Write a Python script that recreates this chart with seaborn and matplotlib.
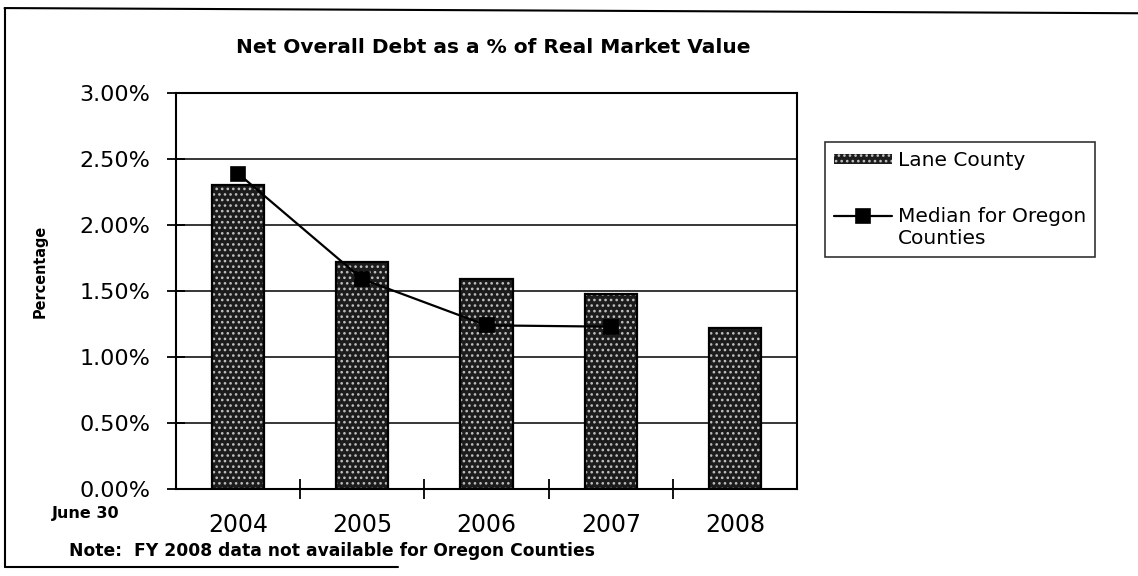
import matplotlib
matplotlib.use("Agg")
import numpy as np
import matplotlib.pyplot as plt
from matplotlib.lines import Line2D
from matplotlib.legend_handler import HandlerLine2D
import seaborn as sns
import pandas as pd

# Fiscal years (as of June 30)
years = ["2004", "2005", "2006", "2007", "2008"]
# Net overall debt as a percent of real market value, Lane County
lane_county = [2.30, 1.72, 1.59, 1.48, 1.22]
# Median for Oregon counties (no FY 2008 figure)
median_years = ["2004", "2005", "2006", "2007"]
median_oregon = [2.39, 1.59, 1.24, 1.23]

y_ticks = [0.0, 0.5, 1.0, 1.5, 2.0, 2.5, 3.0]
y_tick_labels = ["0.00%", "0.50%", "1.00%", "1.50%", "2.00%", "2.50%", "3.00%"]

LANE_LABEL = "Lane County"
MEDIAN_LABEL = "Median for Oregon\nCounties"

sns.set_theme(style="white")
plt.rcParams["font.family"] = ["DejaVu Sans"]
plt.rcParams["hatch.linewidth"] = 1.1
for key in ("text.color", "axes.labelcolor", "xtick.color", "ytick.color"):
    plt.rcParams[key] = "black"


class FirstLineHandler(HandlerLine2D):
    """Line legend handle lifted to sit beside the first line of a two-line label."""

    def __init__(self, lift=0.6, **kw):
        super().__init__(**kw)
        self.lift = lift

    def create_artists(self, legend, orig_handle, xdescent, ydescent,
                       width, height, fontsize, trans):
        artists = super().create_artists(legend, orig_handle, xdescent, ydescent,
                                         width, height, fontsize, trans)
        for a in artists:
            a.set_ydata(np.asarray(a.get_ydata(), dtype=float) + self.lift * fontsize)
        return artists


fig = plt.figure(figsize=(11.38, 5.76), dpi=100)
ax = fig.add_axes([0.1547, 0.151, 0.5457, 0.6875])

bars = pd.DataFrame({"year": years, "value": lane_county})
# speckled dark fill
sns.barplot(data=bars, x="year", y="value", order=years, ax=ax,
            color="#1c1c1c", saturation=1, width=0.42,
            edgecolor="#bfbfbf", linewidth=0, hatch="...",
            label=LANE_LABEL, zorder=3)
# black outline around each bar
sns.barplot(data=bars, x="year", y="value", order=years, ax=ax,
            color="black", fill=False, width=0.42, linewidth=1.6, zorder=4)

med = pd.DataFrame({"year": median_years, "value": median_oregon})
sns.pointplot(data=med, x="year", y="value", order=years, ax=ax,
              color="black", markers="s", errorbar=None,
              markersize=10, linewidth=1.6,
              label=MEDIAN_LABEL, zorder=5)

ax.set_xlim(-0.5, len(years) - 0.5)
ax.set_ylim(0, 3.0)
ax.set_yticks(y_ticks)
ax.set_yticklabels(y_tick_labels)
ax.yaxis.grid(True, color="black", linewidth=1.1, zorder=0)
ax.set_axisbelow(True)

# category labels at bar centres, tick marks at category boundaries
ax.set_xticks(range(len(years)))
ax.set_xticklabels(years)
ax.set_xticks([i + 0.5 for i in range(len(years) - 1)], minor=True)
ax.tick_params(axis="x", which="major", length=0, pad=17, labelsize=17)
ax.tick_params(axis="x", which="minor", direction="inout", length=14,
               width=1.3, color="black", bottom=True)
ax.tick_params(axis="y", direction="inout", length=13, width=1.3,
               color="black", left=True, pad=12, labelsize=16)

for s in ax.spines.values():
    s.set_color("black")
    s.set_linewidth(1.5)

ax.set_xlabel("")
ax.set_ylabel("Percentage", fontsize=11.5, fontweight="bold",
              fontstretch="condensed")
ax.yaxis.set_label_coords(-0.206, 0.55)

fig.text(0.433, 0.918, "Net Overall Debt as a % of Real Market Value",
         ha="center", va="center", fontsize=14.5, fontweight="bold")
fig.text(0.075, 0.108, "June 30", ha="center", va="center",
         fontsize=11.5, fontweight="bold")
fig.text(0.061, 0.043, "Note:  FY 2008 data not available for Oregon Counties",
         ha="left", va="center", fontsize=12.3, fontweight="bold")

handles, labels = ax.get_legend_handles_labels()
lookup = dict(zip(labels, handles))
order = [LANE_LABEL, MEDIAN_LABEL]
leg = ax.legend([lookup[k] for k in order], order,
                loc="upper left", bbox_to_anchor=(0.725, 0.753),
                bbox_transform=fig.transFigure, borderaxespad=0,
                frameon=True, fancybox=False, edgecolor="black",
                fontsize=14.5, handlelength=2.85, handleheight=0.4,
                labelspacing=1.8, borderpad=0.45, handletextpad=0.3,
                handler_map={lookup[MEDIAN_LABEL]: FirstLineHandler(lift=0.6)})
leg.get_frame().set_linewidth(1.2)

# outer chart frame
frame_kw = dict(color="black", linewidth=1.5, transform=fig.transFigure)
fig.add_artist(Line2D([0.004, 1.0], [0.986, 0.977], **frame_kw))
fig.add_artist(Line2D([0.004, 0.004], [0.986, 0.016], **frame_kw))
fig.add_artist(Line2D([0.004, 0.35], [0.016, 0.016], **frame_kw))

fig.savefig("out.png", dpi=100, facecolor="white")
